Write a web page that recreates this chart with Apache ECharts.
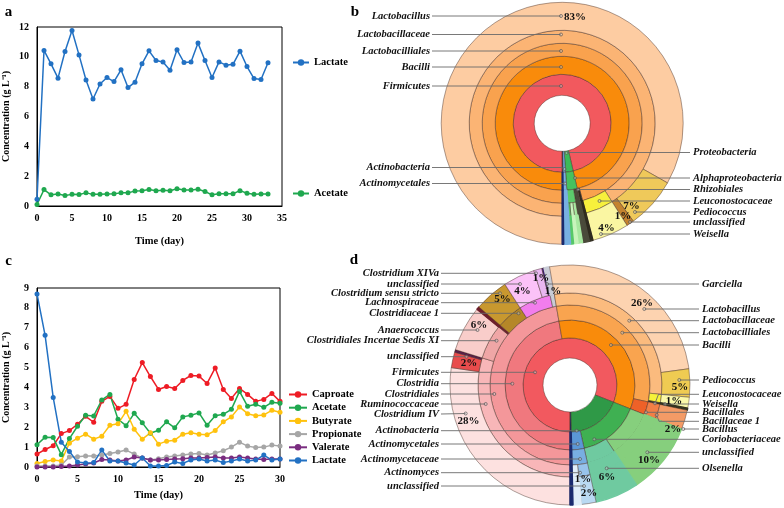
<!DOCTYPE html>
<html><head><meta charset="utf-8">
<script src="https://cdn.jsdelivr.net/npm/echarts@6/dist/echarts.min.js"></script>
<style>html,body{margin:0;padding:0;background:#fff}#c{width:784px;height:508px}</style>
</head><body><div id="c"></div>
<script>
// ---------------- Panel a ----------------
const daysA = [0,1,2,3,4,5,6,7,8,9,10,11,12,13,14,15,16,17,18,19,20,21,22,23,24,25,26,27,28,29,30,31,32,33];
const lactateA = [0.45,10.43,9.53,8.57,10.36,11.77,10.13,8.45,7.17,8.18,8.61,8.34,9.13,7.94,8.3,9.53,10.4,9.75,9.66,9.1,10.47,9.62,9.66,10.92,9.75,8.61,9.66,9.44,9.5,10.38,9.35,8.54,8.48,9.6];
const acetateA = [0.1,1.1,0.75,0.8,0.7,0.78,0.77,0.88,0.78,0.78,0.8,0.82,0.88,0.88,1.0,1.03,1.1,1.02,1.05,1.02,1.15,1.08,1.07,1.12,0.97,0.75,0.82,0.82,0.82,1.03,0.85,0.78,0.8,0.8];
const xTicksA = [0,5,10,15,20,25,30,35];
const yTicksA = [0,2,4,6,8,10,12];

// ---------------- Panel c ----------------
const daysC = [0,1,2,3,4,5,6,7,8,9,10,11,12,13,14,15,16,17,18,19,20,21,22,23,24,25,26,27,28,29,30];
const caproateC = [0.65,0.88,1.07,1.68,1.83,2.15,2.55,2.25,3.3,3.55,2.95,3.15,4.4,5.25,4.55,3.9,4.05,3.95,4.35,4.6,4.57,4.2,4.98,3.9,3.45,3.95,3.65,3.3,3.4,3.7,3.3];
const acetateC = [1.12,1.5,1.48,0.62,1.43,2.05,2.6,2.57,3.37,3.65,2.4,2.08,2.7,2.22,1.7,1.85,2.27,1.97,2.52,2.6,2.72,2.1,2.58,2.65,2.9,3.8,3.05,3.15,3.0,3.25,3.2];
const butyrateC = [0.18,0.28,0.35,0.3,1.2,1.45,1.65,1.4,1.55,2.1,2.17,2.8,1.9,1.4,1.72,1.15,1.3,1.35,1.65,1.72,1.65,1.62,1.83,2.27,2.52,3.02,2.68,2.58,2.62,2.85,2.75];
const propionateC = [0.05,0.05,0.05,0.1,0.5,0.52,0.55,0.55,0.6,0.68,0.75,0.85,0.65,0.45,0.35,0.42,0.5,0.55,0.6,0.65,0.68,0.6,0.7,0.82,1.0,1.25,1.05,0.98,1.0,1.1,1.05];
const valerateC = [0,0,0,0.02,0.05,0.1,0.15,0.2,0.38,0.35,0.3,0.35,0.5,0.45,0.35,0.35,0.38,0.4,0.42,0.45,0.45,0.48,0.5,0.45,0.45,0.5,0.45,0.4,0.38,0.4,0.4];
const lactateC = [8.7,6.62,3.5,1.25,0.78,0.25,0.2,0.22,0.85,0.3,0.3,0.2,0.1,0.45,0.05,0.05,0.07,0.25,0.18,0.35,0.4,0.3,0.35,0.22,0.3,0.4,0.3,0.35,0.6,0.35,0.4];
const seriesNamesC = ['Caproate','Acetate','Butyrate','Propionate','Valerate','Lactate'];

// ---------------- Panel b (Krona) ----------------
const bLeafPaths = [
  'Firmicutes/Bacilli/Lactobacilliales/Lactobacillaceae/Lactobacillus',
  'Firmicutes/Bacilli/Lactobacilliales/Lactobacillaceae/Pediococcus',
  'Firmicutes/Bacilli/Lactobacilliales/Lactobacillaceae/unclassified',
  'Firmicutes/Bacilli/Lactobacilliales/Leuconostocaceae/Weisella',
  'Firmicutes/Bacilli/other',
  'Proteobacteria/Alphaproteobacteria/other',
  'Proteobacteria/Alphaproteobacteria/Rhizobiales/family A',
  'Proteobacteria/Alphaproteobacteria/Rhizobiales/family B',
  'Proteobacteria/Alphaproteobacteria/Rhizobiales/family C',
  'Actinobacteria/Actinomycetales',
  'other'
];
const bLeafValues = [83.2,6.8,1.0,4.9,0.5,0.9,0.6,0.6,0.4,0.9,0.2];

// ---------------- Panel d (Krona) ----------------
const dLeafPaths = [
  'Firmicutes/Clostridia/Clostridiales/Ruminococcaceae/Clostridium IV',
  'Firmicutes/Clostridia/Clostridiales/Ruminococcaceae/unclassified',
  'Firmicutes/Clostridia/Clostridiales/Ruminococcaceae/other',
  'Firmicutes/Clostridia/Clostridiales/Clostridiales Incertae Sedis XI/Anaerococcus',
  'Firmicutes/Clostridia/Clostridiales/other',
  'Firmicutes/Clostridia/Clostridiales/Clostridiaceae 1/Clostridium sensu stricto',
  'Firmicutes/Clostridia/Clostridiales/Lachnospiraceae/unclassified',
  'Firmicutes/Clostridia/Clostridiales/Lachnospiraceae/Clostridium XIVa',
  'Firmicutes/Clostridia/Clostridiales/Lachnospiraceae/other',
  'Firmicutes/Clostridia/Clostridiales/Garciella',
  'Firmicutes/Bacilli/Lactobacilliales/Lactobacillaceae/Lactobacillus',
  'Firmicutes/Bacilli/Lactobacilliales/Lactobacillaceae/Pediococcus',
  'Firmicutes/Bacilli/Lactobacilliales/Leuconostocaceae/Weisella',
  'Firmicutes/Bacilli/Lactobacilliales/other',
  'Firmicutes/Bacilli/Bacillales/Bacillaceae 1/Bacillus',
  'Actinobacteria/Coriobacteriaceae/unclassified',
  'Actinobacteria/Coriobacteriaceae/Olsenella',
  'Actinobacteria/Actinomycetales/Actinomycetaceae/Actinomyces/unclassified',
  'Actinobacteria/Actinomycetales/Actinomycetaceae/other',
  'other'
];
const dLeafValues = [27.3,2.1,0.35,6.1,0.4,4.6,4.25,1.1,0.3,0.75,25.55,3.8,1.45,0.3,2.6,9.65,5.85,2.0,1.1,0.4];

// ---------------- styles (colours) ----------------
const bColors = {
  'Firmicutes':'#f2595e',
  'Firmicutes/Bacilli':'#f98b0b',
  'Firmicutes/Bacilli/Lactobacilliales':'#f9a24e',
  'Firmicutes/Bacilli/Lactobacilliales/Lactobacillaceae':'#fbb474',
  'Firmicutes/Bacilli/Lactobacilliales/Lactobacillaceae/Lactobacillus':'#fdcca2',
  'Firmicutes/Bacilli/Lactobacilliales/Lactobacillaceae/Pediococcus':'#efc95a',
  'Firmicutes/Bacilli/Lactobacilliales/Lactobacillaceae/unclassified':'#c4832f',
  'Firmicutes/Bacilli/Lactobacilliales/Leuconostocaceae':'#f7f03c',
  'Firmicutes/Bacilli/Lactobacilliales/Leuconostocaceae/Weisella':'#faf6a2',
  'Firmicutes/Bacilli/other':'#2f2b1f',
  'Proteobacteria':'#3cba58',
  'Proteobacteria/Alphaproteobacteria':'#46c15e',
  'Proteobacteria/Alphaproteobacteria/other':'#4a4a3a',
  'Proteobacteria/Alphaproteobacteria/Rhizobiales':'#5ccb6c',
  'Proteobacteria/Alphaproteobacteria/Rhizobiales/family A':'#a8e8a0',
  'Proteobacteria/Alphaproteobacteria/Rhizobiales/family B':'#c8f4bc',
  'Proteobacteria/Alphaproteobacteria/Rhizobiales/family C':'#56c868',
  'Actinobacteria':'#6aa6dc',
  'Actinobacteria/Actinomycetales':'#78b0e2',
  'other':'#1b2a6e'
};
const dColors = {
  'Firmicutes':'#f2595f',
  'Firmicutes/Clostridia':'#f0787e',
  'Firmicutes/Clostridia/Clostridiales':'#f4979a',
  'Firmicutes/Clostridia/Clostridiales/Ruminococcaceae':'#f8b6b8',
  'Firmicutes/Clostridia/Clostridiales/Ruminococcaceae/Clostridium IV':'#fde1e0',
  'Firmicutes/Clostridia/Clostridiales/Ruminococcaceae/unclassified':'#e84c4c',
  'Firmicutes/Clostridia/Clostridiales/Ruminococcaceae/other':'#5a1d4a',
  'Firmicutes/Clostridia/Clostridiales/Clostridiales Incertae Sedis XI':'#efa6a6',
  'Firmicutes/Clostridia/Clostridiales/Clostridiales Incertae Sedis XI/Anaerococcus':'#f9cdca',
  'Firmicutes/Clostridia/Clostridiales/other':'#6e1f2c',
  'Firmicutes/Clostridia/Clostridiales/Clostridiaceae 1':'#b58728',
  'Firmicutes/Clostridia/Clostridiales/Clostridiaceae 1/Clostridium sensu stricto':'#c8982f',
  'Firmicutes/Clostridia/Clostridiales/Lachnospiraceae':'#f27ded',
  'Firmicutes/Clostridia/Clostridiales/Lachnospiraceae/unclassified':'#fbc2f8',
  'Firmicutes/Clostridia/Clostridiales/Lachnospiraceae/Clostridium XIVa':'#e9b6f0',
  'Firmicutes/Clostridia/Clostridiales/Lachnospiraceae/other':'#3b1d6e',
  'Firmicutes/Clostridia/Clostridiales/Garciella':'#c9ccd6',
  'Firmicutes/Bacilli':'#f98b0b',
  'Firmicutes/Bacilli/Lactobacilliales':'#f9a44f',
  'Firmicutes/Bacilli/Lactobacilliales/Lactobacillaceae':'#fbbb7e',
  'Firmicutes/Bacilli/Lactobacilliales/Lactobacillaceae/Lactobacillus':'#fdd3b0',
  'Firmicutes/Bacilli/Lactobacilliales/Lactobacillaceae/Pediococcus':'#efcb52',
  'Firmicutes/Bacilli/Lactobacilliales/Leuconostocaceae':'#f6f23a',
  'Firmicutes/Bacilli/Lactobacilliales/Leuconostocaceae/Weisella':'#fbf9a9',
  'Firmicutes/Bacilli/Lactobacilliales/other':'#343420',
  'Firmicutes/Bacilli/Bacillales':'#ee6128',
  'Firmicutes/Bacilli/Bacillales/Bacillaceae 1':'#f27f46',
  'Firmicutes/Bacilli/Bacillales/Bacillaceae 1/Bacillus':'#f49b66',
  'Actinobacteria':'#2f9947',
  'Actinobacteria/Coriobacteriaceae':'#3fb052',
  'Actinobacteria/Coriobacteriaceae/unclassified':'#86cf7d',
  'Actinobacteria/Coriobacteriaceae/Olsenella':'#6fcaa0',
  'Actinobacteria/Actinomycetales':'#5b97d6',
  'Actinobacteria/Actinomycetales/Actinomycetaceae':'#78aee2',
  'Actinobacteria/Actinomycetales/Actinomycetaceae/Actinomyces':'#98c3ec',
  'Actinobacteria/Actinomycetales/Actinomycetaceae/Actinomyces/unclassified':'#b9d9f2',
  'Actinobacteria/Actinomycetales/Actinomycetaceae/other':'#e1eef9',
  'other':'#1b2a6e'
};

// ---------------- annotation layout (Krona labels) ----------------
// [text, labelY, dotX, dotY, optional kneeX]
const bLeftLabels = [
  ['Lactobacillus',16,561,16],['Lactobacillaceae',34.5,561,34.5],['Lactobacilliales',51,561,51],
  ['Bacilli',67,561,67],['Firmicutes',86,561,86],['Actinobacteria',167.5,564.5,169],['Actinomycetales',183.5,565,183.5]
];
const bRightLabels = [
  ['Proteobacteria',152.5,566.5,153],['Alphaproteobacteria',178,575,178],['Rhizobiales',189.5,578,189.5],
  ['Leuconostocaceae',201,599.5,201],['Pediococcus',212,635,212],['unclassified',222,630,222],['Weisella',234,601,234]
];
const bPercents = [['83%',575,17],['7%',631.5,206],['1%',623,216.5],['4%',606.5,228.5]];
const dLeftLabels = [
  ['Clostridium XIVa',273.3,536,273.3],['unclassified',284,520,284],['Clostridium sensu stricto',293.3,500,293.3],
  ['Lachnospiraceae',302.7,535,302.7],['Clostridiaceae 1',313.3,518.5,313.3],['Anaerococcus',330,477.5,330],
  ['Clostridiales Incertae Sedis XI',340.7,496.5,340.7],['unclassified',356.7,466.5,356.7],['Firmicutes',372.3,535,372.3],
  ['Clostridia',383.7,512.3,383.7],['Clostridiales',394,494.3,394],['Ruminococcaceae',404,485.7,404],
  ['Clostridium IV',414,465.7,413.5],['Actinobacteria',430.7,576.7,430.7],['Actinomycetales',444,577.7,444],
  ['Actinomycetaceae',459,580,459],['Actinomyces',472.7,580,472.7],['unclassified',486,584,486]
];
const dRightLabels = [
  ['Garciella',284,547,284],['Lactobacillus',309,644.3,309],['Lactobacillaceae',320.7,629.3,320.7],
  ['Lactobacilliales',332.7,622.3,332.7],['Bacilli',345,611,345],['Pediococcus',380,679.3,380],
  ['Leuconostocaceae',394.3,655,403.3,658.5],['Weisella',404,665,404],['Bacillales',412.3,646,412.3],
  ['Bacillaceae 1',421.3,656.7,415,659],['Bacillus',429,683.3,429],['Coriobacteriaceae',439.3,594.3,439.3],
  ['unclassified',452.3,647.3,452.3],['Olsenella',468.3,606.7,468.3]
];
const dPercents = [['6%',479,324.7],['5%',502.5,299],['4%',522.5,291.3],['1%',541,278],['1%',553,290.8],
  ['2%',469,362.8],['28%',468.5,420.8],['26%',642,303.3],['5%',680,387.5],['1%',674,400.8],['2%',673,428.7],
  ['10%',649,460],['6%',607,477],['1%',583,479],['2%',589,493]];

// ---------------- helpers ----------------
const SERIF = '"Liberation Serif","Times New Roman",serif';
function buildTree(paths, values, colors, maxDepth) {
  const root = {children: []};
  paths.forEach((p, i) => {
    const parts = p.split('/');
    let node = root, key = '';
    parts.forEach((name) => {
      key = key ? key + '/' + name : name;
      let child = node.children.find(c => c.name === name);
      if (!child) {
        const col = colors[key] || (node.itemStyle && node.itemStyle.color) || '#ccc';
        child = {name: name, children: [], itemStyle: {color: col}};
        node.children.push(child);
      }
      node = child;
    });
    node.value = values[i];
    let leaf = node, depth = parts.length;
    while (depth < maxDepth) {
      const c = leaf.itemStyle.color;
      const ext = {name: leaf.name, value: values[i], children: [], itemStyle: {color: c, borderColor: c, borderWidth: 1.4}};
      leaf.children.push(ext); leaf = ext; depth++;
    }
  });
  (function clean(n) {
    if (n.children && n.children.length === 0) delete n.children;
    else if (n.children) n.children.forEach(clean);
  })(root);
  return root.children;
}
function kronaSeries(data, center, radii) {
  const levels = [{itemStyle: {color: 'transparent', borderWidth: 0}}];
  for (let i = 0; i < radii.length - 1; i++) levels.push({r0: radii[i], r: radii[i + 1]});
  return {
    type: 'sunburst', center: center, radius: [radii[0], radii[radii.length - 1]],
    startAngle: -90, clockwise: true, sort: null, nodeClick: false, silent: true,
    data: data, levels: levels,
    label: {show: false},
    itemStyle: {borderColor: 'rgba(70,45,35,0.75)', borderWidth: 0.6},
    emphasis: {disabled: true}, animation: false
  };
}
const graphics = [];
const LFONT = 'italic bold 10.5px ' + SERIF;
const PFONT = 'bold 11px ' + SERIF;
function addLabels(list, side, textX) {
  list.forEach(l => {
    const [t, ly, dx, dy, knee] = l;
    graphics.push({type: 'text', z: 100, silent: true,
      style: {text: t, x: textX, y: ly, font: LFONT, fill: '#111', align: side === 'L' ? 'right' : 'left', verticalAlign: 'middle',
        textAlign: side === 'L' ? 'right' : 'left', textVerticalAlign: 'middle'}});
    let pts;
    if (side === 'L') pts = [[textX + 2, ly], [dx, dy]];
    else pts = knee != null ? [[dx, dy], [knee, ly], [textX - 3, ly]] : [[dx, ly], [textX - 3, ly]];
    if (side === 'L' && Math.abs(dy - ly) > 0.8) pts = [[textX + 2, ly], [dx - 3, ly], [dx, dy]];
    graphics.push({type: 'polyline', z: 100, silent: true, shape: {points: pts}, style: {stroke: '#6a6a6a', lineWidth: 0.9, fill: null}});
    graphics.push({type: 'circle', z: 101, silent: true, shape: {cx: dx, cy: dy, r: 1.5}, style: {stroke: '#555', lineWidth: 0.7, fill: 'rgba(255,255,255,0.3)'}});
  });
}
function addPercents(list) {
  list.forEach(([t, x, y]) => graphics.push({type: 'text', z: 102, silent: true,
    style: {text: t, x: x, y: y, font: PFONT, fill: '#111', align: 'center', verticalAlign: 'middle', textAlign: 'center', textVerticalAlign: 'middle'}}));
}
addLabels(bLeftLabels, 'L', 430);
addLabels(bRightLabels, 'R', 693);
addLabels(dLeftLabels, 'L', 439);
addLabels(dRightLabels, 'R', 702);
addPercents(bPercents);
addPercents(dPercents);
[['a', 8.5, 12.5], ['b', 355, 12.5], ['c', 8.5, 261], ['d', 354, 260]].forEach(([t, x, y]) =>
  graphics.push({type: 'text', z: 100, silent: true, style: {text: t, x: x, y: y, font: 'bold 15px ' + SERIF, fill: '#000', align: 'center', verticalAlign: 'middle', textAlign: 'center', textVerticalAlign: 'middle'}}));

// ---------------- chart option ----------------
const axisFont = {color: '#000', fontFamily: SERIF, fontWeight: 'bold', fontSize: 10};
function xAxisDef(gridIndex, max, gap) {
  return {type: 'value', gridIndex: gridIndex, min: 0, max: max, interval: 5,
    name: 'Time (day)', nameLocation: 'middle', nameGap: gap,
    nameTextStyle: {color: '#000', fontFamily: SERIF, fontWeight: 'bold', fontSize: 10.5},
    axisLine: {lineStyle: {color: '#000', width: 1}}, axisTick: {show: false},
    axisLabel: Object.assign({margin: 7}, axisFont), splitLine: {show: false}};
}
function yAxisDef(gridIndex, max, interval) {
  return {type: 'value', gridIndex: gridIndex, min: 0, max: max, interval: interval,
    name: 'Concentration (g L\u207B\u00B9)', nameLocation: 'middle', nameGap: 26, nameRotate: 90,
    nameTextStyle: {color: '#000', fontFamily: SERIF, fontWeight: 'bold', fontSize: 10},
    axisLine: {show: true, lineStyle: {color: '#000', width: 1}}, axisTick: {show: false},
    axisLabel: Object.assign({margin: 8}, axisFont), splitLine: {show: false}};
}
function lineSeries(name, xs, ys, color, axisIdx) {
  return {type: 'line', name: name, xAxisIndex: axisIdx, yAxisIndex: axisIdx,
    data: xs.map((x, i) => [x, ys[i]]), symbol: 'circle', symbolSize: 5, showSymbol: true,
    lineStyle: {color: color, width: 1.5}, itemStyle: {color: color}, animation: false, silent: true};
}
const colA = {Lactate: '#2271c3', Acetate: '#1fa84f'};
const colC = {Caproate: '#ee1c25', Acetate: '#1fa84f', Butyrate: '#ffc20e', Propionate: '#a6a6a6', Valerate: '#7a2d80', Lactate: '#2271c3'};
const dataC = {Caproate: caproateC, Acetate: acetateC, Butyrate: butyrateC, Propionate: propionateC, Valerate: valerateC, Lactate: lactateC};

const legendText = {color: '#000', fontFamily: SERIF, fontWeight: 'bold', fontSize: 10.5};
const option = {
  animation: false,
  grid: [
    {left: 35, top: 27, width: 247, height: 179, show: true, borderColor: '#000', borderWidth: 1, backgroundColor: 'transparent'},
    {left: 37, top: 288, width: 243, height: 179, show: true, borderColor: '#000', borderWidth: 1, backgroundColor: 'transparent'}
  ],
  xAxis: [xAxisDef(0, 35, 30), xAxisDef(1, 30, 23)],
  yAxis: [yAxisDef(0, 12, 2), yAxisDef(1, 9, 1)],
  legend: [
    {data: ['Lactate'], left: 287, top: 52, itemWidth: 16, itemHeight: 8, itemGap: 4, textStyle: legendText, selectedMode: false},
    {data: ['Acetate'], left: 287, top: 183, itemWidth: 16, itemHeight: 8, itemGap: 4, textStyle: legendText, selectedMode: false},
    {data: seriesNamesC.map(n => n + ' '), left: 283, top: 384, orient: 'vertical', itemWidth: 18, itemHeight: 8, itemGap: 2.2,
      textStyle: Object.assign({lineHeight: 10}, legendText), selectedMode: false}
  ],
  series: [
    lineSeries('Lactate', daysA, lactateA, colA.Lactate, 0),
    lineSeries('Acetate', daysA, acetateA, colA.Acetate, 0),
    ...seriesNamesC.map(n => lineSeries(n + ' ', daysC, dataC[n], colC[n], 1)),
    kronaSeries(buildTree(bLeafPaths, bLeafValues, bColors, 5), [562.2, 123.3], [28, 49, 67, 80, 93, 121]),
    kronaSeries(buildTree(dLeafPaths, dLeafValues, dColors, 5), [570, 385], [27, 47, 65, 80, 92, 120])
  ],
  graphic: {elements: graphics}
};
const chart = echarts.init(document.getElementById('c'), null, {renderer: 'canvas'});
chart.setOption(option);
</script>
</body></html>
